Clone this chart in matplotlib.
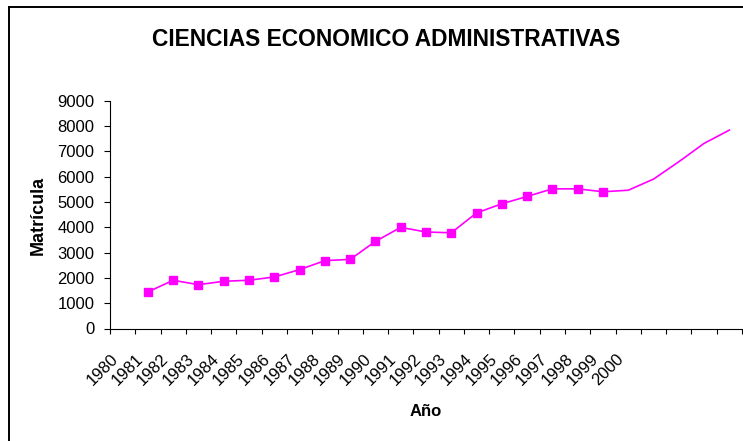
import numpy as np
import matplotlib
matplotlib.use("Agg")
import matplotlib.pyplot as plt
import matplotlib.transforms as mtransforms
from matplotlib.lines import Line2D

plt.rcParams['font.family'] = ['Liberation Sans', 'DejaVu Sans']

# categorias del eje x (las ultimas 4 sin etiqueta)
anios = ['1980', '1981', '1982', '1983', '1984', '1985', '1986', '1987', '1988',
         '1989', '1990', '1991', '1992', '1993', '1994', '1995', '1996', '1997',
         '1998', '1999', '2000', '', '', '', '']
# matricula (1980 sin dato)
matricula = [np.nan, 1445, 1905, 1730, 1865, 1905, 2035, 2325, 2680, 2730, 3440,
             3995, 3810, 3780, 4565, 4925, 5215, 5515, 5515, 5400, 5460, 5900,
             6585, 7310, 7835]
# puntos con marcador: 1981 a 1999
con_marcador = list(range(1, 20))

fig = plt.figure(figsize=(7.43, 4.41), dpi=100)
ax = fig.add_axes([110 / 743, 1 - 328.5 / 441, 632 / 743, 227.9 / 441])

x = np.arange(len(anios))
ax.plot(x, matricula, color='#FF00FF', lw=1.2, marker='s', markersize=6,
        markeredgecolor='#FF00FF', markevery=con_marcador)

ax.set_xlim(-0.5, len(anios) - 0.5)
ax.set_ylim(0, 9000)
ax.set_yticks(np.arange(0, 9001, 1000))
ax.tick_params(axis='y', direction='out', length=4.3, width=0.8, pad=7, labelsize=12)

# marcas en los limites de categoria, etiquetas al centro
ax.set_xticks(np.arange(-0.5, len(anios), 1))
ax.set_xticklabels([])
ax.set_xticks(x, minor=True)
ax.set_xticklabels(anios, minor=True, rotation=45, ha='right', va='center',
                   rotation_mode='anchor', fontsize=12)
ax.tick_params(axis='x', which='major', direction='out', length=3.6, width=0.8)
ax.tick_params(axis='x', which='minor', length=0, pad=20)
desplaza = mtransforms.ScaledTranslation(-0.07, 0, fig.dpi_scale_trans)
for lbl in ax.get_xticklabels(minor=True):
    lbl.set_transform(lbl.get_transform() + desplaza)

ax.spines['top'].set_visible(False)
ax.spines['right'].set_visible(False)
ax.spines['left'].set_linewidth(0.8)
ax.spines['bottom'].set_linewidth(0.8)

fig.text(386 / 743, 1 - 39 / 441, 'CIENCIAS ECONOMICO ADMINISTRATIVAS',
         ha='center', va='center', fontsize=16.4, fontweight='bold')
fig.text(38 / 743, 1 - 215 / 441, 'Matrícula', rotation=90, ha='center',
         va='center', fontsize=13, fontweight='bold')
fig.text(426 / 743, 1 - 412 / 441, 'Año', ha='center', va='center',
         fontsize=12, fontweight='bold')

# borde del area de grafico
bx = 8.7 / 743
by = 1 - 7.3 / 441
fig.add_artist(Line2D([bx, bx], [0, by], color='black', lw=1.4))
fig.add_artist(Line2D([bx, 1], [by, by], color='black', lw=1.4))

fig.savefig('out.png', dpi=100)
